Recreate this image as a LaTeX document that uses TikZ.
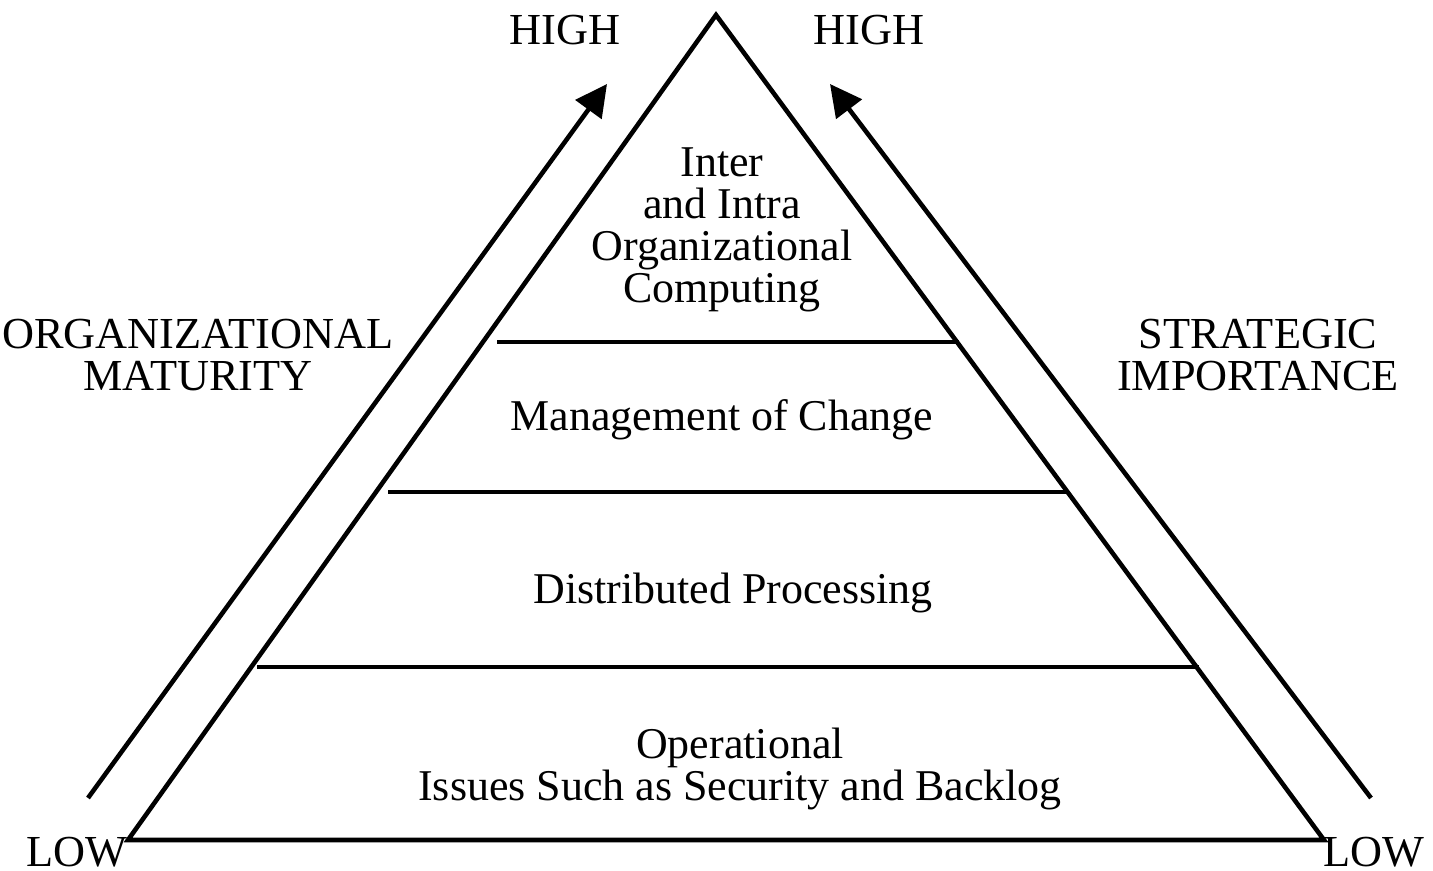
\documentclass[tikz,border=0pt]{standalone}
\usepackage{fontspec}
\setmainfont{Liberation Serif}
\usetikzlibrary{arrows.meta}
\tikzset{
  layer/.style={font=\fontsize{12.5}{12}\selectfont, align=center},
  axislabel/.style={font=\fontsize{12.6}{12}\selectfont, align=center, inner sep=0pt},
  risearrow/.style={line width=1.3pt, -{Triangle[length=9pt,width=9pt]}}
}
\begin{document}
\begin{tikzpicture}[x=0.01cm, y=-0.01cm, line width=1.3pt]
    \useasboundingbox (0,0) rectangle (1433,871);

    % Corners of the pyramid
    \coordinate (Apex) at (716,15);
    \coordinate (BaseL) at (128,840);
    \coordinate (BaseR) at (1324,840);
    \draw (BaseL) -- (Apex) -- (BaseR) -- cycle;

    % Dividing lines between the layers
    \coordinate (D1L) at (497,342);
    \coordinate (D1R) at (959,342);
    \coordinate (D2L) at (388,492);
    \coordinate (D2R) at (1069,492);
    \coordinate (D3L) at (257,667);
    \coordinate (D3R) at (1199,667);
    \draw (D1L) -- (D1R);
    \draw (D2L) -- (D2R);
    \draw (D3L) -- (D3R);

    % Arrows along the sides
    \coordinate (MatLow) at (88,798);
    \coordinate (MatHigh) at (607,84);
    \coordinate (StrLow) at (1371,798);
    \coordinate (StrHigh) at (830,84);
    \draw[risearrow] (MatLow) -- (MatHigh);
    \draw[risearrow] (StrLow) -- (StrHigh);

    % Layer texts
    \node[layer] (inter) at (722,230) {Inter\\and Intra\\Organizational\\Computing};
    \node[layer] (change) at (722,420) {Management of Change};
    \node[layer] (distrib) at (733,593) {Distributed Processing};
    \node[layer] (oper) at (740,769) {Operational\\Issues Such as Security and Backlog};

    % Side labels
    \node[axislabel] (maturity) at (198,355) {ORGANIZATIONAL\\MATURITY};
    \node[axislabel] (strategic) at (1258,355) {STRATEGIC\\IMPORTANCE};
    \node[axislabel] (highL) at (565,30) {HIGH};
    \node[axislabel] (highR) at (869,30) {HIGH};
    \node[axislabel] (lowL) at (77,852) {LOW};
    \node[axislabel] (lowR) at (1374,852) {LOW};
\end{tikzpicture}
\end{document}
